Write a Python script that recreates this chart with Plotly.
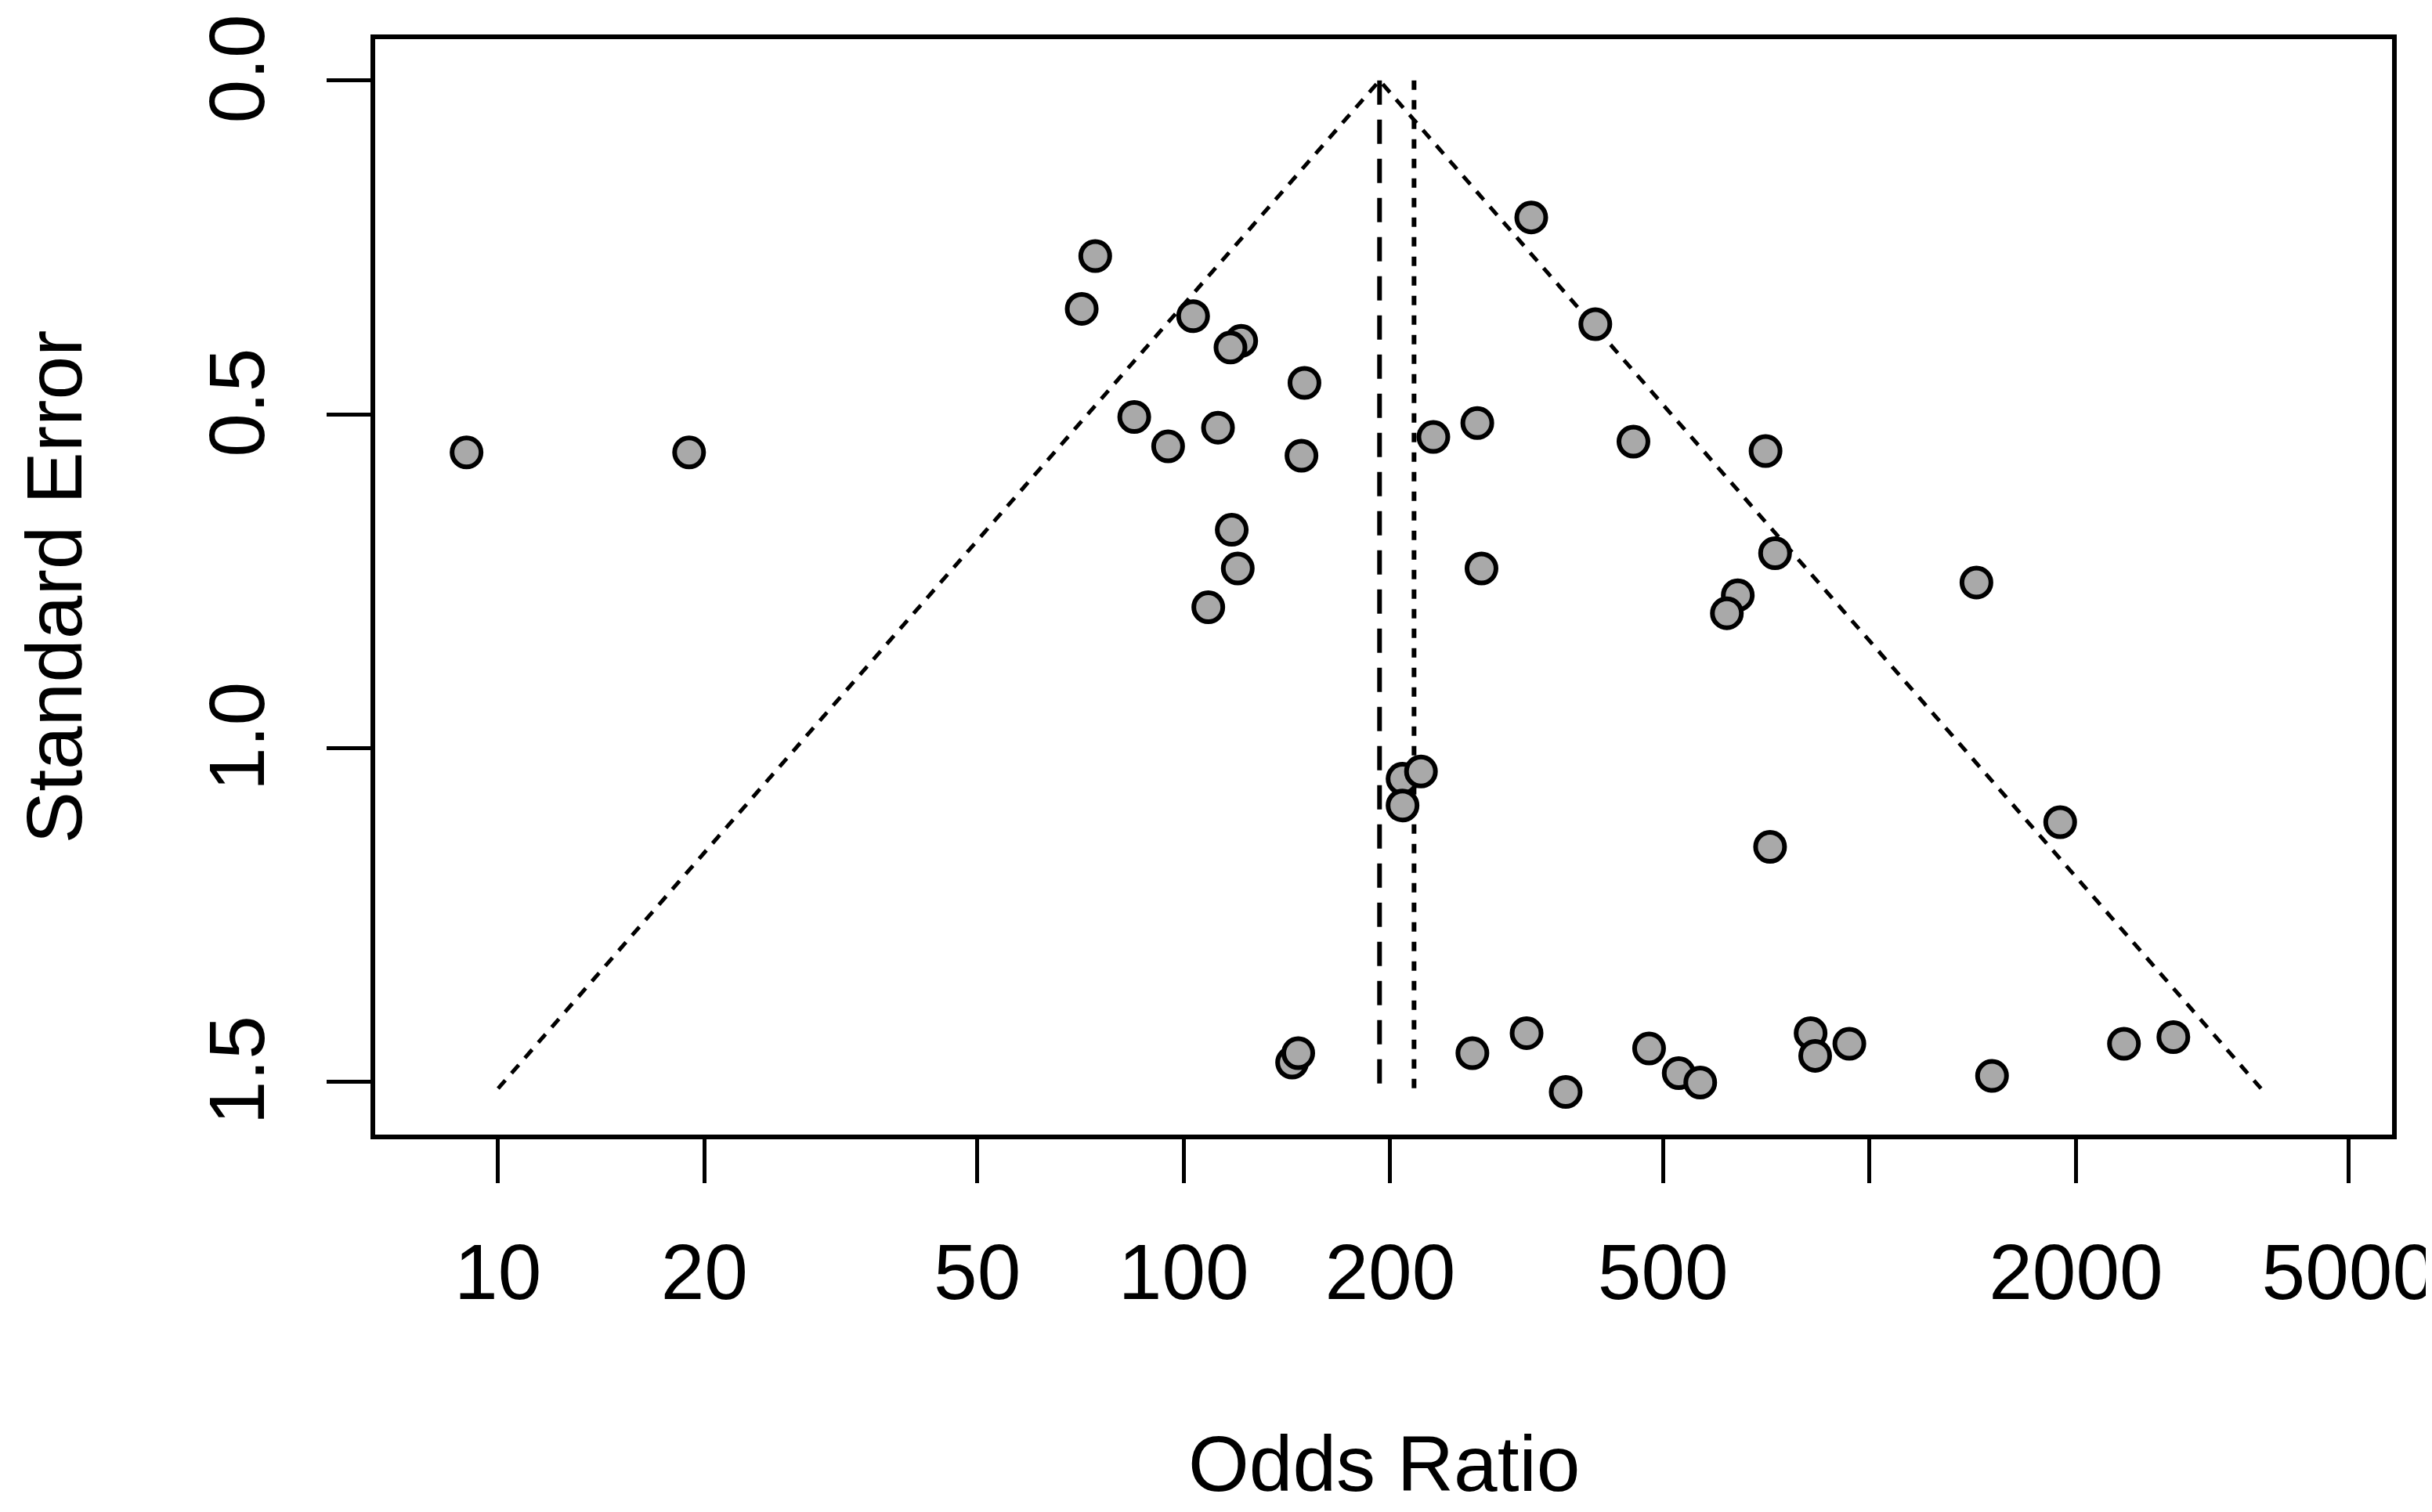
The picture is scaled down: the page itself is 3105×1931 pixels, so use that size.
"""
Funnel plot: odds ratio (log scale) vs standard error.
"""
import numpy as np
import plotly.graph_objects as go

# study estimates
odds_ratio = [9.0, 19.0, 71.0, 74.3, 84.7, 94.9, 103.2, 112.2, 121.3, 117.0,
              150.0, 148.5, 117.5, 119.9, 108.6, 321.2, 398.3, 231.2, 268.0, 271.8,
              452.7, 705.4, 728.3, 642.6, 619.5, 1432, 208.5, 221.8, 208.5, 716.2,
              1897, 143.9, 146.9, 263.6, 316.2, 360.6, 477.1, 527.0, 566.5, 820.6,
              833.3, 934.6, 1509, 2350, 2774]
std_error = [0.557, 0.557, 0.342, 0.263, 0.504, 0.548, 0.353, 0.520, 0.390, 0.400,
             0.453, 0.562, 0.673, 0.731, 0.789, 0.205, 0.365, 0.534, 0.513, 0.731,
             0.541, 0.555, 0.708, 0.771, 0.798, 0.752, 1.046, 1.035, 1.086, 1.148,
             1.111, 1.471, 1.457, 1.457, 1.427, 1.515, 1.450, 1.487, 1.501, 1.427,
             1.461, 1.443, 1.491, 1.443, 1.433]

# pooled estimates
fixed_or = 193.0
random_or = 216.7
max_se = 1.51

x_ticks = [10, 20, 50, 100, 200, 500, 1000, 2000, 5000]
x_ticktext = ['10', '20', '50', '100', '200', '500', '', '2000', '5000']
y_ticks = [0.0, 0.5, 1.0, 1.5]
y_ticktext = ['0.0', '0.5', '1.0', '1.5']

FONT = 'Arial, Liberation Sans, sans-serif'

# pseudo confidence region around the fixed effect estimate
se_line = [0.0, max_se]
left_edge = [float(np.exp(np.log(fixed_or) - 1.96 * s)) for s in se_line]
right_edge = [float(np.exp(np.log(fixed_or) + 1.96 * s)) for s in se_line]

fig = go.Figure()

fig.add_trace(go.Scatter(
    x=[left_edge[1], fixed_or, right_edge[1]],
    y=[se_line[1], 0.0, se_line[1]],
    mode='lines',
    line=dict(color='black', width=5, dash='14px,12px'),
    hoverinfo='skip'
))

fig.add_trace(go.Scatter(
    x=[fixed_or, fixed_or], y=[0.0, max_se],
    mode='lines',
    line=dict(color='black', width=6, dash='31px,19px'),
    hoverinfo='skip'
))

fig.add_trace(go.Scatter(
    x=[random_or, random_or], y=[0.0, max_se],
    mode='lines',
    line=dict(color='black', width=6, dash='12px,13px'),
    hoverinfo='skip'
))

fig.add_trace(go.Scatter(
    x=odds_ratio, y=std_error,
    mode='markers',
    marker=dict(symbol='circle', size=37, color='#A9A9A9',
                line=dict(color='black', width=6)),
))

fig.update_xaxes(
    type='log',
    range=[0.821, 3.762],
    tickvals=x_ticks,
    ticktext=x_ticktext,
    ticks='outside',
    ticklen=56,
    tickwidth=5,
    tickcolor='black',
    ticklabelstandoff=28,
    tickfont=dict(family=FONT, size=100, color='black'),
    showline=True,
    linewidth=6,
    linecolor='black',
    mirror=True,
    showgrid=False,
    zeroline=False,
)

fig.update_yaxes(
    range=[1.579, -0.062],
    tickvals=y_ticks,
    ticktext=y_ticktext,
    tickangle=-90,
    ticks='outside',
    ticklen=56,
    tickwidth=5,
    tickcolor='black',
    ticklabelstandoff=40,
    tickfont=dict(family=FONT, size=100, color='black'),
    showline=True,
    linewidth=6,
    linecolor='black',
    mirror=True,
    showgrid=False,
    zeroline=False,
)

fig.add_annotation(text='Odds Ratio', xref='paper', yref='paper',
                   x=0.5, y=-0.300, xanchor='center', yanchor='middle',
                   showarrow=False, font=dict(family=FONT, size=100, color='black'))
fig.add_annotation(text='Standard Error', xref='paper', yref='paper',
                   x=-0.1596, y=0.5, xanchor='center', yanchor='middle', textangle=-90,
                   showarrow=False, font=dict(family=FONT, size=100, color='black'))

fig.update_layout(
    width=3105,
    height=1931,
    margin=dict(l=471, r=59, t=42, b=490, autoexpand=False),
    plot_bgcolor='white',
    paper_bgcolor='white',
    showlegend=False,
)

fig.write_html('out.html')
